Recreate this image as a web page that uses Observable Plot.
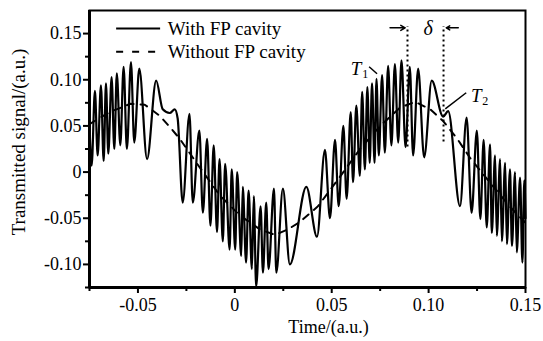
<!DOCTYPE html>
<html><head><meta charset="utf-8">
<script src="https://cdn.jsdelivr.net/npm/d3@7"></script>
<script src="https://cdn.jsdelivr.net/npm/@observablehq/plot@0.6"></script>
<style>
html,body{margin:0;padding:0;background:#fff;}
#chart svg{display:block;}
#chart svg, #chart svg text{font-family:"Liberation Serif","Times New Roman",Times,serif !important;}
</style></head><body><div id="chart"></div>
<script>
// Solid curve: "With FP cavity" (extrema)
const solidX = [-0.075,-0.0739,-0.0722,-0.0708,-0.0691,-0.0677,-0.0665,-0.0653,-0.0636,-0.0622,-0.0609,-0.0591,-0.0574,-0.0557,-0.0536,-0.0519,-0.0493,-0.0453,-0.0406,-0.0372,-0.0336,-0.0310,-0.0295,-0.0269,-0.0234,-0.0217,-0.0183,-0.0165,-0.0143,-0.0126,-0.0109,-0.0092,-0.0079,-0.0062,-0.0050,-0.0027,-0.0016,0.0002,0.0012,0.0033,0.0041,0.0058,0.0071,0.0088,0.0098,0.0110,0.0133,0.0145,0.0162,0.0174,0.0202,0.0214,0.0248,0.0284,0.0369,0.0424,0.0465,0.0491,0.0517,0.0536,0.0560,0.0577,0.0598,0.0610,0.0627,0.0645,0.0657,0.0671,0.0684,0.0696,0.0708,0.0721,0.0731,0.0743,0.0760,0.0774,0.0791,0.0808,0.0826,0.0843,0.0860,0.0881,0.0903,0.0920,0.0946,0.0977,0.1016,0.1075,0.1101,0.1162,0.1196,0.1222,0.1249,0.1267,0.1284,0.1300,0.1317,0.1326,0.1343,0.1352,0.1369,0.1378,0.1395,0.1404,0.1420,0.1430,0.1446,0.1455,0.1472,0.1484,0.1494,0.15];
const solidY = [0.050,0.007,0.088,0.018,0.094,0.012,0.096,0.020,0.103,0.025,0.107,0.029,0.114,0.025,0.119,0.032,0.112,0.014,0.099,0.068,0.064,0.068,0.058,-0.033,0.063,-0.033,0.045,-0.044,0.036,-0.058,0.029,-0.065,0.014,-0.075,0.009,-0.084,0.003,-0.084,0.000,-0.091,-0.016,-0.098,-0.020,-0.105,-0.026,-0.124,-0.037,-0.109,-0.033,-0.105,-0.018,-0.109,-0.018,-0.100,-0.016,-0.070,0.024,-0.050,0.035,-0.037,0.050,-0.029,0.065,-0.011,0.072,-0.004,0.087,0.003,0.092,0.010,0.096,0.010,0.101,0.018,0.105,0.021,0.115,0.029,0.117,0.032,0.121,0.027,0.114,0.018,0.112,0.016,0.099,0.060,0.066,-0.037,0.059,-0.044,0.045,-0.051,0.035,-0.060,0.030,-0.066,0.018,-0.069,0.014,-0.075,0.010,-0.078,0.003,-0.080,0.000,-0.087,-0.006,-0.098,-0.009,-0.050];

// Dashed curve: "Without FP cavity"
const dashX = [-0.075,-0.0646,-0.0538,-0.0465,-0.0388,-0.0336,-0.0284,-0.0181,-0.0078,0.0026,0.0129,0.0207,0.0274,0.0336,0.0429,0.0543,0.0646,0.075,0.0853,0.0931,0.1008,0.1076,0.1148,0.1215,0.1319,0.1422,0.15];
const dashY = [0.052,0.065,0.074,0.073,0.061,0.049,0.036,0.005,-0.025,-0.047,-0.062,-0.068,-0.062,-0.054,-0.037,-0.005,0.025,0.05,0.07,0.076,0.068,0.055,0.036,0.015,-0.012,-0.038,-0.055];

const xDomain = [-0.075, 0.15];
const yDomain = [-0.125, 0.175];
const xTicks = [-0.05, 0, 0.05, 0.10, 0.15];
const xTickLabels = ["-0.05", "0", "0.05", "0.10", "0.15"];
const yTicks = [-0.10, -0.05, 0, 0.05, 0.10, 0.15];
const yTickLabels = ["-0.10", "-0.05", "0", "0.05", "0.10", "0.15"];
const xMinor = [-0.075, -0.025, 0.025, 0.075, 0.125];
const yMinor = [-0.125, -0.075, -0.025, 0.025, 0.075, 0.125];

const legendLabels = ["With FP cavity", "Without FP cavity"];
const xTitle = "Time/(a.u.)";
const yTitle = "Transmitted signal/(a.u.)";

const solid = solidX.map((x, i) => ({x, y: solidY[i]}));
const dash = dashX.map((x, i) => ({x, y: dashY[i]}));
const font = "Liberation Serif, Times New Roman, serif";

const chart = Plot.plot({
  width: 543, height: 341,
  marginLeft: 89, marginRight: 18, marginTop: 10, marginBottom: 54,
  style: {fontFamily: font, fontSize: "18px", color: "#000", background: "#fff", overflow: "visible"},
  x: {domain: xDomain, label: null},
  y: {domain: yDomain, label: null},
  marks: [
    Plot.line(dash, {x: "x", y: "y", stroke: "#000", strokeWidth: 2, strokeDasharray: "7,7"}),
    Plot.line(solid, {x: "x", y: "y", stroke: "#000", strokeWidth: 2.2, curve: "monotone-x"}),
    Plot.frame({stroke: "#000", strokeWidth: 2}),
    Plot.ruleX([xDomain[0]], {stroke: "#000", strokeWidth: 3}),
    Plot.ruleY([yDomain[0]], {stroke: "#000", strokeWidth: 3}),
    Plot.axisX({ticks: xTicks, tickFormat: d => xTickLabels[xTicks.indexOf(d)], tickSize: 6, tickPadding: 5, strokeWidth: 2, fontSize: 18, label: null}),
    Plot.axisX({ticks: xMinor, tickFormat: () => "", tickSize: 4, strokeWidth: 2, label: null}),
    Plot.axisY({ticks: yTicks, tickFormat: d => yTickLabels[yTicks.indexOf(d)], tickSize: 6, tickPadding: 2, strokeWidth: 2, fontSize: 18, label: null}),
    Plot.axisY({ticks: yMinor, tickFormat: () => "", tickSize: 4, strokeWidth: 2, label: null}),
    // axis titles
    Plot.text([xTitle], {frameAnchor: "bottom", textAnchor: "middle", dx: 21, dy: 40, fontSize: 18, lineAnchor: "middle"}),
    Plot.text([yTitle], {frameAnchor: "left", textAnchor: "middle", rotate: -90, dx: -71, dy: -7, fontSize: 19, lineAnchor: "middle"}),
    // legend
    Plot.ruleY([0.1554], {x1: -0.061, x2: -0.0383, stroke: "#000", strokeWidth: 2}),
    Plot.ruleY([0.1304], {x1: -0.061, x2: -0.0383, stroke: "#000", strokeWidth: 2, strokeDasharray: "7,9"}),
    Plot.text([legendLabels[0]], {x: -0.0346, y: 0.1554, textAnchor: "start", lineAnchor: "middle", fontSize: 19}),
    Plot.text([legendLabels[1]], {x: -0.0346, y: 0.1304, textAnchor: "start", lineAnchor: "middle", fontSize: 19}),
    // delta annotation
    Plot.ruleX([0.0891], {y1: 0.0272, y2: 0.1576, stroke: "#000", strokeWidth: 2, strokeDasharray: "2,3"}),
    Plot.ruleX([0.1077], {y1: 0.0326, y2: 0.1576, stroke: "#000", strokeWidth: 2, strokeDasharray: "2,3"}),
    Plot.arrow([0], {x1: 0.0801, y1: 0.1562, x2: 0.0879, y2: 0.1562, stroke: "#000", strokeWidth: 1.5, headLength: 6}),
    Plot.arrow([0], {x1: 0.1153, y1: 0.1562, x2: 0.1091, y2: 0.1562, stroke: "#000", strokeWidth: 1.5, headLength: 6}),
    Plot.text(["δ"], {x: 0.0998, y: 0.1554, fontStyle: "italic", fontSize: 20, lineAnchor: "middle"}),
    // T1
    Plot.text(["T"], {x: 0.0626, y: 0.112, fontStyle: "italic", fontSize: 19, lineAnchor: "middle"}),
    Plot.text(["1"], {x: 0.0626, y: 0.112, dx: 9, dy: 5, fontSize: 12, lineAnchor: "middle"}),
    Plot.link([0], {x1: 0.0693, y1: 0.1141, x2: 0.0734, y2: 0.1065, stroke: "#000", strokeWidth: 1.5}),
    // T2
    Plot.text(["T"], {x: 0.1246, y: 0.0826, fontStyle: "italic", fontSize: 19, lineAnchor: "middle"}),
    Plot.text(["2"], {x: 0.1246, y: 0.0826, dx: 9, dy: 5, fontSize: 12, lineAnchor: "middle"}),
    Plot.link([0], {x1: 0.1086, y1: 0.0685, x2: 0.1194, y2: 0.0859, stroke: "#000", strokeWidth: 1.5})
  ]
});
document.getElementById("chart").appendChild(chart);
</script>
</body></html>
